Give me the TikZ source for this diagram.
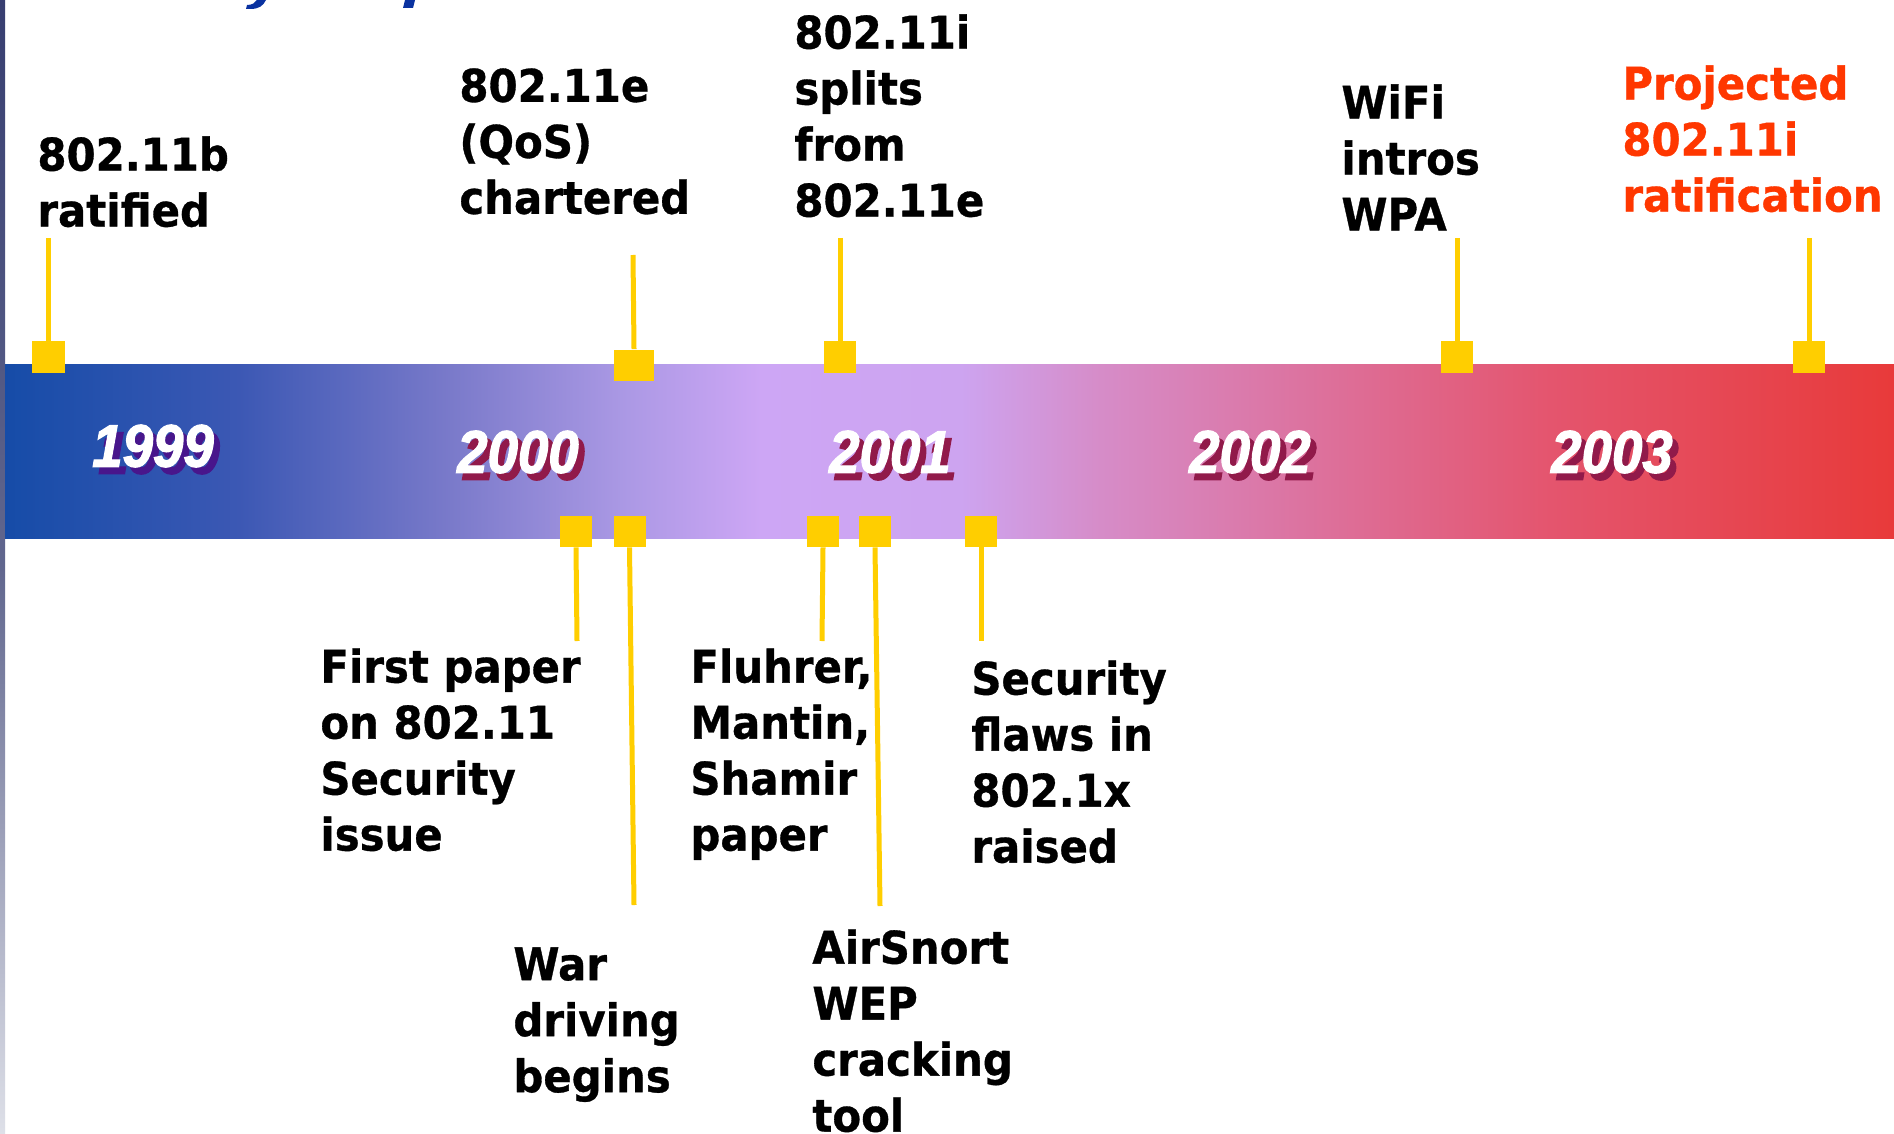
\documentclass[tikz,border=0pt]{standalone}
\usepackage{fontspec}
\newfontfamily\labfont{DejaVu Sans}[FakeStretch=0.93, FakeBold=0.7]
\newfontfamily\yearfont{Liberation Sans}[FakeStretch=0.91, FakeBold=2]
\definecolor{mkyellow}{RGB}{255,206,0}
\definecolor{projred}{RGB}{255,55,0}
\definecolor{titleblue}{RGB}{10,50,160}
\definecolor{shpurple}{RGB}{72,22,140}
\definecolor{shmaroon}{RGB}{145,26,74}
\definecolor{stripTop}{RGB}{55,62,112}
\definecolor{stripBot}{RGB}{222,224,232}
\definecolor{bc0}{RGB}{22,76,168}
\definecolor{bc1}{RGB}{60,88,180}
\definecolor{bc2}{RGB}{122,122,202}
\definecolor{bc3}{RGB}{170,152,228}
\definecolor{bc4}{RGB}{205,166,245}
\definecolor{bc5}{RGB}{205,164,240}
\definecolor{bc6}{RGB}{214,140,200}
\definecolor{bc7}{RGB}{220,115,160}
\definecolor{bc8}{RGB}{228,85,110}
\definecolor{bc9}{RGB}{232,58,58}
\pgfdeclarehorizontalshading{bandshade}{100bp}{color(0bp)=(bc0); color(25bp)=(bc0); color(31.2bp)=(bc1); color(36.8bp)=(bc2); color(41.3bp)=(bc3); color(45bp)=(bc4); color(50.3bp)=(bc5); color(54bp)=(bc6); color(59.3bp)=(bc7); color(65.9bp)=(bc8); color(75bp)=(bc9); color(100bp)=(bc9)}
\tikzset{
  lab/.style={font=\labfont\bfseries\fontsize{22.5pt}{28pt}\selectfont, align=left, inner sep=0pt, anchor=north west, text=black},
  yr/.style={font=\yearfont\bfseries\itshape\fontsize{30pt}{34pt}\selectfont, inner sep=0pt, text=white},
  mk/.style={fill=mkyellow, draw=none, inner sep=0pt, minimum width=16pt, minimum height=16pt},
  conn/.style={draw=mkyellow, line width=2.5pt}
}
\begin{document}
\begin{tikzpicture}[x=0.5pt, y=-0.5pt]
\clip (0,0) rectangle (1894,1134);
\fill[white] (0,0) rectangle (1894,1134);
% left strip
\shade[top color=stripTop, bottom color=stripBot, middle color=stripTop!75!stripBot] (0,0) rectangle (5,1134);
% title fragments
\fill[titleblue] (257,0) -- (266,0) .. controls (263,6) and (259,9) .. (250,9) -- (246,9) -- (247,5) .. controls (252,5) and (255,3) .. (257,0) -- cycle;
\fill[titleblue] (405,0) -- (415,0) -- (413,8) -- (403,8) -- cycle;
% band
\shade[shading=bandshade] (5,364) rectangle (1894,538);
% years
\node[yr, text=shpurple] (y1999s) at (159,453) {1999};
\node[yr] (y1999) at (153,446) {1999};
\node[yr, text=shmaroon] (y2000s) at (524,459) {2000};
\node[yr] (y2000) at (518,452) {2000};
\node[yr, text=shmaroon] (y2001s) at (896,459) {2001};
\node[yr] (y2001) at (890,452) {2001};
\node[yr, text=shmaroon] (y2002s) at (1256,459) {2002};
\node[yr] (y2002) at (1250,452) {2002};
\node[yr, text=shmaroon] (y2003s) at (1618,459) {2003};
\node[yr] (y2003) at (1612,452) {2003};
% labels above
\node[lab] (tb) at (37,136) {802.11b\\ratified};
\node[lab] (te) at (459,68) {802.11e\\(QoS)\\chartered};
\node[lab] (ti) at (794,14) {802.11i\\splits\\from\\802.11e};
\node[lab] (tw) at (1341,84) {WiFi\\intros\\WPA};
\node[lab, text=projred] (tp) at (1622,65) {Projected\\802.11i\\ratification};
% labels below
\node[lab] (bf) at (320,648) {First paper\\on 802.11\\Security\\issue};
\node[lab] (bw) at (513,947) {War\\driving\\begins};
\node[lab] (bm) at (690,648) {Fluhrer,\\Mantin,\\Shamir\\paper};
\node[lab] (ba) at (812,929) {AirSnort\\WEP\\cracking\\tool};
\node[lab] (bs) at (971,660) {Security\\flaws in\\802.1x\\raised};
% free ends of connectors
\coordinate (c1) at (48,238);
\coordinate (c2) at (633,255);
\coordinate (c3) at (840,238);
\coordinate (c4) at (1457,238);
\coordinate (c5) at (1809,238);
\coordinate (d6) at (577,641);
\coordinate (d7) at (634,905);
\coordinate (d8) at (822,641);
\coordinate (d9) at (880,906);
\coordinate (d10) at (981,641);
% markers
\node[mk, minimum width=16.5pt] (s1) at (48,357) {};
\node[mk, minimum width=20pt, minimum height=15.5pt] (s2) at (634,365) {};
\node[mk] (s3) at (840,357) {};
\node[mk] (s4) at (1457,357) {};
\node[mk] (s5) at (1809,357) {};
\node[mk, minimum height=15.5pt] (s6) at (576,531.5) {};
\node[mk, minimum height=15.5pt] (s7) at (629.5,531.5) {};
\node[mk, minimum height=15.5pt] (s8) at (823,531.5) {};
\node[mk, minimum height=15.5pt] (s9) at (875,531.5) {};
\node[mk, minimum height=15.5pt] (s10) at (981,531.5) {};
% connectors
\draw[conn] (c1) -- (s1.north);
\draw[conn] (c2) -- (s2.north);
\draw[conn] (c3) -- (s3.north);
\draw[conn] (c4) -- (s4.north);
\draw[conn] (c5) -- (s5.north);
\draw[conn] (s6.south) -- (d6);
\draw[conn] (s7.south) -- (d7);
\draw[conn] (s8.south) -- (d8);
\draw[conn] (s9.south) -- (d9);
\draw[conn] (s10.south) -- (d10);
\end{tikzpicture}
\end{document}
